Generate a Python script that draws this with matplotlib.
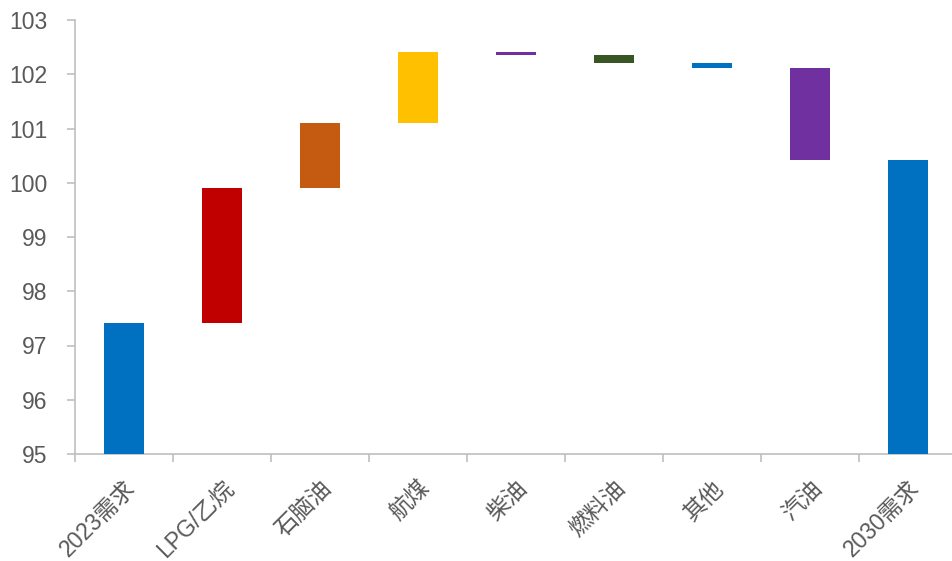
import matplotlib
matplotlib.use("Agg")
import matplotlib.pyplot as plt
import numpy as np

categories = ["2023需求", "LPG/乙烷", "石脑油", "航煤", "柴油", "燃料油", "其他", "汽油", "2030需求"]
start_value = 97.41
changes = [2.49, 1.20, 1.31, -0.05, -0.15, -0.09, -1.70]
end_value = 100.42
colors = ["#0070C0", "#C00000", "#C55A11", "#FFC000", "#7030A0", "#375623", "#0070C0", "#7030A0", "#0070C0"]
y_min, y_max = 95, 103

plt.rcParams['font.family'] = ['Liberation Sans', 'Noto Sans CJK SC', 'DejaVu Sans']

fig = plt.figure(figsize=(9.52, 5.61), dpi=100)
ax = fig.add_axes([75/952, 107/561, 882/952, 434/561])

bottoms = [y_min]
heights = [start_value - y_min]
level = start_value
for c in changes:
    new = level + c
    bottoms.append(min(level, new))
    heights.append(abs(c))
    level = new
bottoms.append(y_min)
heights.append(end_value - y_min)

x = np.arange(len(categories))
ax.bar(x, heights, bottom=bottoms, width=0.41, color=colors, zorder=3)

ax.set_xlim(-0.5, len(categories) - 0.5)
ax.set_ylim(y_min, y_max)
ax.set_yticks(np.arange(y_min, y_max + 1, 1))
ax.set_xticks(x)
ax.set_xticks(np.arange(-0.5, len(categories), 1), minor=True)
ax.set_xticklabels(categories, rotation=45, ha='right', rotation_mode='anchor',
                   fontsize=16.5, color='#595959')
for lab in ax.get_yticklabels():
    lab.set_fontsize(16.5)
    lab.set_color('#595959')

for s in ['top', 'right']:
    ax.spines[s].set_visible(False)
for s in ['left', 'bottom']:
    ax.spines[s].set_color('#BFBFBF')
    ax.spines[s].set_linewidth(1.2)

ax.tick_params(axis='y', length=6, width=1.2, color='#BFBFBF', pad=14)
ax.tick_params(axis='x', which='major', length=0, pad=16)
ax.tick_params(axis='x', which='minor', length=6, width=1.2, color='#BFBFBF')

fig.savefig("out.png", dpi=100)
